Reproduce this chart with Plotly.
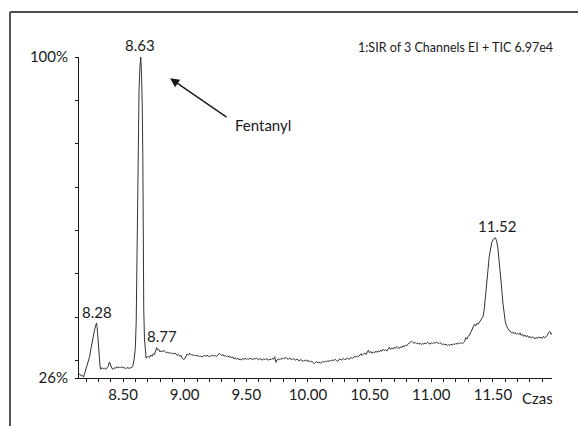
import plotly.graph_objects as go

# Retention time (min) and relative intensity (%)
TIME = [
    8.14, 8.15, 8.16, 8.17, 8.18, 8.19, 8.20, 8.21, 8.22, 8.23, 8.24, 8.25, 8.26, 8.27, 8.28, 8.285,
    8.29, 8.295, 8.30, 8.305, 8.31, 8.315, 8.32, 8.33, 8.34, 8.35, 8.36, 8.37, 8.38, 8.39, 8.40,
    8.41, 8.42, 8.43, 8.44, 8.45, 8.46, 8.47, 8.48, 8.49, 8.50, 8.51, 8.52, 8.53, 8.54, 8.55, 8.56,
    8.57, 8.578, 8.59, 8.60, 8.607, 8.612, 8.616, 8.622, 8.630, 8.637, 8.644, 8.650, 8.656, 8.661,
    8.664, 8.668, 8.674, 8.680, 8.687, 8.695, 8.705, 8.715, 8.725, 8.735, 8.745, 8.755, 8.765,
    8.773, 8.78, 8.79, 8.80, 8.81, 8.82, 8.83, 8.84, 8.85, 8.86, 8.87, 8.88, 8.89, 8.90, 8.91,
    8.92, 8.93, 8.94, 8.95, 8.96, 8.97, 8.98, 8.99, 9.00, 9.01, 9.02, 9.03, 9.04, 9.05, 9.06,
    9.07, 9.08, 9.09, 9.10, 9.11, 9.12, 9.13, 9.14, 9.15, 9.16, 9.17, 9.18, 9.19, 9.20, 9.21,
    9.22, 9.23, 9.24, 9.25, 9.26, 9.27, 9.28, 9.29, 9.30, 9.31, 9.32, 9.33, 9.34, 9.35, 9.36,
    9.37, 9.38, 9.39, 9.40, 9.41, 9.42, 9.43, 9.44, 9.45, 9.46, 9.47, 9.48, 9.49, 9.50, 9.51,
    9.52, 9.53, 9.54, 9.55, 9.56, 9.57, 9.58, 9.59, 9.60, 9.61, 9.62, 9.63, 9.64, 9.65, 9.66,
    9.67, 9.68, 9.69, 9.70, 9.71, 9.72, 9.73, 9.74, 9.75, 9.76, 9.77, 9.78, 9.79, 9.80, 9.81,
    9.82, 9.83, 9.84, 9.85, 9.86, 9.87, 9.88, 9.89, 9.90, 9.91, 9.92, 9.93, 9.94, 9.95, 9.96,
    9.97, 9.98, 9.99, 10.00, 10.01, 10.02, 10.03, 10.04, 10.05, 10.06, 10.07, 10.08, 10.09,
    10.10, 10.11, 10.12, 10.13, 10.14, 10.15, 10.16, 10.17, 10.18, 10.19, 10.20, 10.21, 10.22,
    10.23, 10.24, 10.25, 10.26, 10.27, 10.28, 10.29, 10.30, 10.31, 10.32, 10.33, 10.34, 10.35,
    10.36, 10.37, 10.38, 10.39, 10.40, 10.41, 10.42, 10.43, 10.44, 10.45, 10.46, 10.47, 10.48,
    10.49, 10.50, 10.51, 10.52, 10.53, 10.54, 10.55, 10.56, 10.57, 10.58, 10.59, 10.60, 10.61,
    10.62, 10.63, 10.64, 10.65, 10.66, 10.67, 10.68, 10.69, 10.70, 10.71, 10.72, 10.73, 10.74,
    10.75, 10.76, 10.77, 10.78, 10.79, 10.80, 10.81, 10.82, 10.83, 10.84, 10.85, 10.86, 10.87,
    10.88, 10.89, 10.90, 10.91, 10.92, 10.93, 10.94, 10.95, 10.96, 10.97, 10.98, 10.99, 11.00,
    11.01, 11.02, 11.03, 11.04, 11.05, 11.06, 11.07, 11.08, 11.09, 11.10, 11.11, 11.12, 11.13,
    11.14, 11.15, 11.16, 11.17, 11.18, 11.19, 11.20, 11.21, 11.22, 11.23, 11.24, 11.25, 11.26,
    11.27, 11.28, 11.29, 11.30, 11.31, 11.32, 11.33, 11.34, 11.35, 11.36, 11.37, 11.38, 11.39,
    11.40, 11.41, 11.42, 11.43, 11.44, 11.45, 11.46, 11.47, 11.48, 11.49, 11.50, 11.51, 11.52,
    11.53, 11.54, 11.55, 11.56, 11.57, 11.58, 11.59, 11.60, 11.61, 11.62, 11.63, 11.64, 11.65,
    11.66, 11.67, 11.68, 11.69, 11.70, 11.71, 11.72, 11.73, 11.74, 11.75, 11.76, 11.77, 11.78,
    11.79, 11.80, 11.81, 11.82, 11.83, 11.84, 11.85, 11.86, 11.87, 11.88, 11.89, 11.90, 11.91,
    11.92, 11.93, 11.94, 11.95, 11.96, 11.97, 11.98,
]

INTENSITY = [
    26.8, 26.9, 26.5, 26.6, 26.2, 27.2, 27.9, 28.6, 29.6, 31.0, 32.8, 34.5, 35.8, 37.2, 38.2, 38.7,
    37.6, 35.8, 33.8, 31.2, 29.4, 28.3, 28.0, 28.4, 28.1, 28.3, 28.0, 28.5, 28.7, 29.7, 28.9,
    28.2, 28.0, 28.4, 28.2, 28.6, 28.3, 28.5, 28.4, 28.6, 28.3, 28.4, 28.2, 28.3, 28.4, 28.2, 28.3,
    28.4, 28.6, 30.2, 33.0, 39.0, 52.0, 70.0, 84.0, 92.5, 97.5, 100.0, 96.0, 89.0, 76.0,
    55.0, 42.0, 35.0, 32.0, 30.6, 30.8, 31.0, 30.7, 31.3, 31.0, 31.6, 31.4, 32.4,
    33.0, 32.5, 32.6, 32.0, 32.3, 32.0, 32.4, 32.1, 31.8, 32.0, 31.7, 31.9, 31.6, 31.8, 31.5,
    31.7, 31.6, 31.2, 31.4, 31.0, 31.2, 30.6, 30.3, 30.4, 31.2, 31.5, 31.3, 31.7, 31.5, 31.2,
    31.4, 31.1, 31.3, 31.0, 31.2, 30.9, 31.1, 30.8, 31.0, 31.3, 31.0, 31.2, 31.1, 30.9, 31.1,
    31.3, 31.0, 31.2, 31.1, 31.0, 31.3, 31.7, 31.5, 31.2, 31.4, 31.0, 31.2, 30.9, 31.1, 30.8,
    31.0, 30.6, 30.9, 30.4, 30.7, 30.3, 30.6, 30.2, 30.4, 30.1, 30.5, 30.3, 30.6, 30.2, 30.5,
    30.3, 30.6, 30.4, 30.2, 30.5, 30.3, 30.6, 30.4, 30.2, 30.5, 30.3, 30.1, 30.4, 30.2, 30.5,
    30.3, 30.1, 30.4, 30.2, 30.5, 30.3, 30.9, 29.6, 30.2, 30.4, 30.2, 30.5, 30.3, 30.6, 30.4,
    30.8, 30.5, 30.3, 30.6, 30.4, 30.2, 30.5, 30.3, 30.1, 30.4, 30.2, 29.9, 30.3, 30.0, 29.8,
    30.1, 29.9, 30.2, 29.8, 30.0, 29.7, 29.9, 29.5, 29.3, 29.6, 29.8, 29.5, 29.7,
    29.4, 29.6, 29.8, 29.6, 29.9, 29.7, 30.0, 29.8, 30.1, 29.9, 30.2, 30.0, 30.3,
    30.1, 29.8, 30.2, 30.4, 30.1, 30.3, 30.5, 30.2, 30.4, 30.6, 30.3, 30.5, 30.7,
    30.5, 30.8, 31.0, 30.8, 31.1, 30.9, 31.3, 31.6, 31.2, 31.5, 31.8, 31.4, 31.9,
    32.4, 31.8, 32.1, 31.7, 32.0, 31.8, 32.2, 31.9, 32.3, 32.0, 32.4, 32.2, 32.6,
    32.3, 32.5, 32.2, 32.7, 33.1, 32.6, 32.9, 32.7, 33.1, 32.8, 33.3, 33.0, 32.8,
    33.2, 33.0, 33.4, 33.2, 33.6, 33.4, 33.8, 34.0, 34.3, 34.5, 34.2, 34.0, 34.2,
    33.9, 34.1, 33.8, 34.0, 33.7, 34.0, 33.8, 34.1, 33.9, 34.2, 34.0, 33.8, 34.1,
    33.9, 34.2, 34.0, 34.3, 34.1, 33.9, 34.2, 34.0, 33.7, 33.9, 33.6, 33.8, 33.5,
    33.7, 33.5, 33.8, 33.6, 33.9, 33.7, 34.0, 33.8, 34.1, 33.9, 34.2, 33.9, 34.1,
    34.4, 35.3, 35.0, 35.6, 35.9, 36.5, 37.2, 37.8, 38.4, 38.0, 38.6, 38.4, 38.9,
    39.3, 39.6, 40.2, 42.0, 44.5, 47.5, 51.0, 54.0, 56.0, 57.2, 57.8, 58.2, 58.3,
    57.6, 56.0, 53.5, 50.5, 47.0, 43.5, 40.8, 39.0, 38.0, 37.4, 37.0, 36.8, 36.4,
    36.6, 36.2, 36.5, 36.1, 36.3, 36.0, 36.4, 35.8, 36.1, 35.6, 35.9, 35.5, 35.8,
    35.3, 35.6, 35.2, 35.5, 35.3, 35.0, 35.4, 35.1, 35.5, 35.2, 35.4, 35.1, 35.6,
    35.3, 35.5, 35.8, 36.4, 36.7, 36.1, 36.3,
]

PEAK_LABELS = ["8.28", "8.63", "8.77", "11.52"]
PEAK_TIMES = [8.286, 8.640, 8.815, 11.536]
PEAK_LABEL_Y = [41.2, 100.0, 35.7, 61.0]
PEAK_LABEL_SHIFT = [0, 12, 0, 0]

X_TICKS = [8.5, 9.0, 9.5, 10.0, 10.5, 11.0, 11.5]
X_TICK_TEXT = ["8.50", "9.00", "9.50", "10.00", "10.50", "11.00", "11.50"]
Y_TICKS = [26, 30, 40, 50, 60, 70, 80, 90, 100]
Y_TICK_TEXT = ["26%", "", "", "", "", "", "", "", "100%"]

TITLE = "1:SIR of 3 Channels EI + TIC 6.97e4"
X_TITLE = "Czas"
ANNOT = "Fentanyl"

FONT = "Lato, Open Sans, sans-serif"
INK = "#1a1a1a"
FS = 15

fig = go.Figure()
fig.add_trace(go.Scatter(
    x=TIME, y=INTENSITY, mode="lines",
    line=dict(color="#333333", width=1),
    hoverinfo="x+y", showlegend=False,
))

# Peak labels
for lab, t, yv, sh in zip(PEAK_LABELS, PEAK_TIMES, PEAK_LABEL_Y, PEAK_LABEL_SHIFT):
    fig.add_annotation(x=t, y=yv, yshift=sh, text=lab, showarrow=False, xref="x", yref="y",
                       font=dict(family=FONT, size=FS, color=INK), xanchor="center", yanchor="middle")

# Fentanyl arrow annotation
fig.add_annotation(x=8.882, y=95.1, ax=9.352, ay=85.9, axref="x", ayref="y", xref="x", yref="y",
                   text="", showarrow=True, arrowhead=2, arrowsize=1.3, arrowwidth=1.4,
                   arrowcolor=INK)
fig.add_annotation(x=9.393, y=84.3, text=ANNOT, showarrow=False, xref="x", yref="y",
                   xanchor="left", yanchor="middle",
                   font=dict(family=FONT, size=FS, color=INK))

# Header text
fig.add_annotation(x=1.0, y=1.0, xref="paper", yref="paper", yshift=10, xshift=3, text=TITLE,
                   showarrow=False, xanchor="right", yanchor="middle",
                   font=dict(family=FONT, size=12.5, color=INK))

# Axis title "Czas"
fig.add_annotation(x=1.0, y=0.0, xref="paper", yref="paper", xshift=-32, yshift=-20,
                   text=X_TITLE, showarrow=False, xanchor="left", yanchor="middle",
                   font=dict(family=FONT, size=FS, color=INK))

# Outer frame: top border (two segments) and grey left border
fig.add_shape(type="line", xref="paper", yref="paper", x0=-0.1459, x1=1.0, y0=1.1402, y1=1.1402,
              line=dict(color="#111111", width=1.5))
fig.add_shape(type="line", xref="paper", yref="paper", x0=1.0, x1=1.055, y0=1.1402, y1=1.1402,
              line=dict(color="#111111", width=1.5))
fig.add_shape(type="line", xref="paper", yref="paper", x0=-0.1459, x1=-0.1459, y0=1.1402, y1=-0.4,
              line=dict(color="#555555", width=2))

fig.update_xaxes(
    range=[8.143, 11.979], showgrid=False, zeroline=False,
    showline=True, linecolor=INK, linewidth=1,
    tickmode="array", tickvals=X_TICKS, ticktext=X_TICK_TEXT,
    ticks="outside", ticklen=3, tickcolor=INK, tickwidth=1,
    tickfont=dict(family=FONT, size=FS, color=INK),
    minor=dict(dtick=0.1, tick0=8.0, ticks="outside", ticklen=3, tickcolor=INK, tickwidth=1),
)
fig.update_yaxes(
    range=[26, 100], showgrid=False, zeroline=False,
    showline=True, linecolor=INK, linewidth=1,
    tickmode="array", tickvals=Y_TICKS, ticktext=Y_TICK_TEXT,
    ticks="outside", ticklen=3, tickcolor=INK, tickwidth=1,
    ticklabelstandoff=4,
    tickfont=dict(family=FONT, size=FS, color=INK),
)
fig.update_layout(
    width=580, height=426,
    margin=dict(l=79, r=28, t=57, b=48),
    paper_bgcolor="white", plot_bgcolor="white",
    font=dict(family=FONT, size=FS, color=INK),
)

fig.write_html(
    "out.html",
    config={"displayModeBar": False},
    post_script="document.body.style.margin='0';document.body.style.overflow='hidden';",
)
